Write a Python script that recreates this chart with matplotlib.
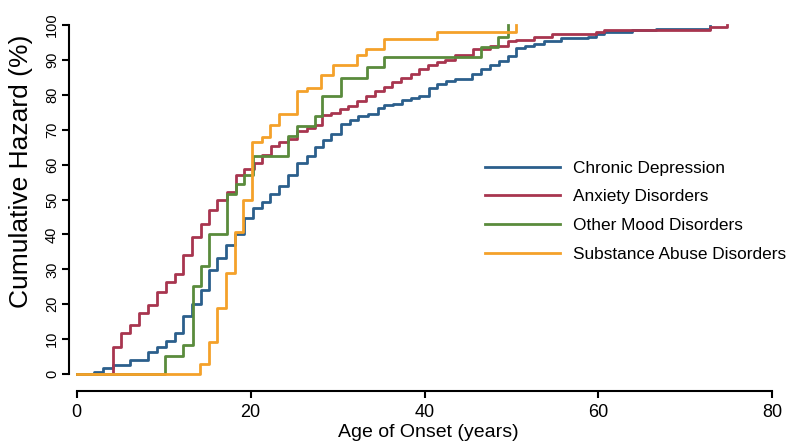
import matplotlib.pyplot as plt

plt.rcParams['font.family'] = ['Liberation Sans', 'DejaVu Sans']

labels = ['Chronic Depression', 'Anxiety Disorders', 'Other Mood Disorders', 'Substance Abuse Disorders']
colors = ['#2b5f8c', '#a8354f', '#5a8b3c', '#f4a12a']

# age of onset (years) and cumulative hazard (%)
dep_age = [0, 2.0, 3.0, 4.2, 6.1, 8.2, 9.2, 10.3, 11.3, 12.2, 13.3, 14.3, 15.2, 16.2, 17.2, 18.2, 19.3,
           20.3, 21.3, 22.2, 23.3, 24.3, 25.3, 26.5, 27.4, 28.3, 29.3, 30.4, 31.4, 32.4, 33.5, 34.6,
           35.4, 36.4, 37.4, 38.5, 39.4, 40.5, 41.4, 42.5, 43.5, 45.5, 46.5, 47.5, 48.6, 49.6, 50.5,
           51.5, 52.6, 53.7, 55.7, 58.8, 59.7, 60.6, 63.8, 66.6, 72.8]
dep_haz = [0, 0.5, 1.8, 2.5, 4.1, 6.4, 7.8, 9.5, 11.7, 16.5, 20.0, 24.2, 29.8, 33.3, 37.0, 40.0, 44.6,
           47.5, 49.2, 51.5, 54.0, 57.0, 60.5, 62.4, 65.0, 67.2, 68.9, 71.6, 72.7, 74.0, 74.6, 76.1,
           77.0, 77.3, 78.5, 79.0, 79.8, 81.9, 83.2, 83.9, 84.4, 86.0, 87.3, 88.6, 89.7, 91.1, 93.3,
           94.0, 94.7, 95.3, 96.3, 96.7, 97.4, 98.1, 98.5, 99.0, 99.6]

anx_age = [0, 4.2, 5.1, 6.1, 7.2, 8.2, 9.2, 10.3, 11.3, 12.2, 13.3, 14.3, 15.2, 16.2, 17.3, 18.3, 19.2,
           20.4, 21.3, 22.3, 23.3, 24.3, 25.3, 26.5, 27.4, 28.2, 29.3, 30.3, 31.2, 32.2, 33.3, 34.3,
           35.3, 36.3, 37.3, 38.4, 39.4, 40.4, 41.4, 42.4, 43.5, 45.6, 47.5, 49.6, 50.5, 52.6, 54.6,
           59.7, 60.6, 72.8, 74.8]
anx_haz = [0, 7.7, 11.7, 14.0, 17.6, 19.9, 23.4, 26.4, 28.8, 34.0, 39.4, 42.9, 47.0, 50.0, 52.2, 57.0, 58.8,
           60.6, 62.8, 65.2, 66.4, 67.3, 69.6, 70.5, 71.5, 74.1, 74.9, 75.9, 76.8, 78.1, 79.6, 81.1,
           82.3, 83.7, 84.9, 86.1, 87.4, 88.6, 89.4, 90.1, 91.3, 93.2, 93.9, 95.3, 95.8, 96.7, 97.4,
           98.0, 98.7, 99.3, 100.0]

mood_age = [0, 10.2, 12.2, 13.4, 14.3, 15.2, 17.3, 18.3, 19.2, 20.3, 24.3, 25.3, 27.4, 28.2, 30.4,
            33.4, 35.4, 46.5, 48.4, 49.6]
mood_haz = [0, 5.3, 8.2, 25.3, 31.0, 40.0, 51.5, 54.5, 57.0, 62.5, 68.2, 71.0, 74.0, 79.7, 84.9,
            87.9, 90.7, 93.6, 96.7, 100.0]

sub_age = [0, 14.2, 15.2, 16.1, 17.2, 18.2, 19.1, 20.2, 21.3, 22.2, 23.3, 25.3, 26.5, 28.1, 29.5,
           32.2, 33.3, 35.3, 41.4, 50.5]
sub_haz = [0, 3.0, 9.3, 19.0, 29.0, 40.6, 50.0, 66.6, 68.0, 71.5, 74.4, 81.0, 82.0, 85.7, 88.6,
           91.4, 93.2, 96.0, 97.9, 100.0]

fig = plt.figure(figsize=(7.9, 4.41), dpi=100)
ax = fig.add_axes([0.087, 0.113, 0.893, 0.835])

series = [(dep_age, dep_haz), (anx_age, anx_haz), (mood_age, mood_haz), (sub_age, sub_haz)]
for (age, haz), lab, col in zip(series, labels, colors):
    ax.step(age, haz, where='post', color=col, lw=2.0, label=lab)

ax.set_xlim(-0.9, 80.2)
ax.set_ylim(-4.9, 100.6)
ax.set_xticks([0, 20, 40, 60, 80])
ax.set_yticks(range(0, 101, 10))
ax.spines['top'].set_visible(False)
ax.spines['right'].set_visible(False)
ax.spines['left'].set_bounds(0, 100)
ax.spines['bottom'].set_bounds(0, 80)
ax.spines['left'].set_linewidth(1.5)
ax.spines['bottom'].set_linewidth(1.5)
ax.tick_params(axis='both', direction='out', length=5, width=1.5)
ax.tick_params(axis='x', labelsize=13, pad=4)
ax.tick_params(axis='y', labelsize=10.5, pad=2)
for t in ax.get_yticklabels():
    t.set_rotation(90)
    t.set_va('center')

ax.set_xlabel('Age of Onset (years)', fontsize=14, va='center')
ax.xaxis.set_label_coords(0.51, -0.111)
ax.set_ylabel('Cumulative Hazard (%)', fontsize=19, va='center')
ax.yaxis.set_label_coords(-0.068, 0.598)

ax.legend(loc='upper left', bbox_to_anchor=(0.614, 0.636), bbox_transform=fig.transFigure,
          frameon=False, fontsize=12.4, handlelength=4.35, handletextpad=0.75,
          labelspacing=0.8, borderpad=0, borderaxespad=0)

fig.savefig('out.png', dpi=100)
